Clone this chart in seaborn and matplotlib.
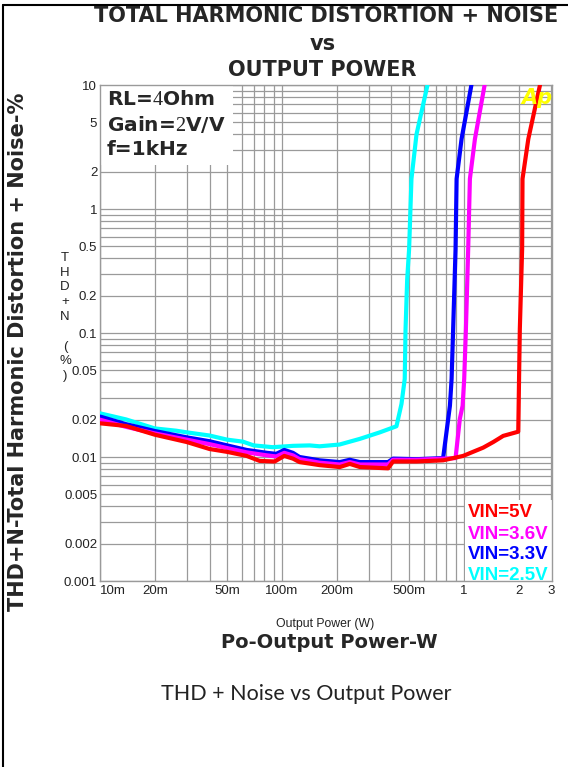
import numpy as np
import pandas as pd
import seaborn as sns
import matplotlib.pyplot as plt
from matplotlib.patches import Rectangle
from matplotlib.lines import Line2D
from matplotlib.ticker import FixedLocator, LogLocator, NullFormatter

# data (output power in W, THD+N in %)
vin_labels = ['VIN=2.5V', 'VIN=3.3V', 'VIN=3.6V', 'VIN=5V']
vin_colors = ['#00ffff', '#0000ff', '#ff00ff', '#ff0000']

p_25 = [0.010, 0.0139, 0.020, 0.0262, 0.030, 0.040, 0.050, 0.061, 0.070, 0.089, 0.115, 0.142,
        0.161, 0.207, 0.268, 0.345, 0.426, 0.454, 0.473, 0.478, 0.488, 0.500, 0.515, 0.549, 0.631]
thd_25 = [0.0225, 0.0201, 0.0170, 0.0163, 0.0158, 0.0149, 0.0138, 0.0133, 0.0124, 0.0120, 0.0123, 0.0124,
          0.0122, 0.0126, 0.0140, 0.0158, 0.0177, 0.0268, 0.0426, 0.108, 0.272, 0.476, 1.75, 4.0, 10.0]

p_33 = [0.010, 0.0139, 0.020, 0.030, 0.040, 0.050, 0.064, 0.083, 0.093, 0.103, 0.115, 0.125, 0.161, 0.208,
        0.236, 0.268, 0.383, 0.408, 0.549, 0.769, 0.820, 0.838, 0.856, 0.873, 0.900, 0.912, 0.971, 1.10]
thd_33 = [0.0212, 0.0184, 0.0162, 0.0144, 0.0134, 0.0124, 0.0114, 0.0108, 0.0106, 0.0114, 0.0108, 0.0100, 0.0094, 0.0091,
          0.0095, 0.0091, 0.0091, 0.0097, 0.0096, 0.0098, 0.0203, 0.0259, 0.0426, 0.108, 0.476, 1.75, 3.67, 10.0]

p_36 = [0.010, 0.0139, 0.020, 0.030, 0.040, 0.050, 0.064, 0.083, 0.093, 0.103, 0.115, 0.125, 0.161, 0.208, 0.236,
        0.268, 0.383, 0.408, 0.549, 0.769, 0.900, 0.950, 0.984, 1.004, 1.026, 1.056, 1.079, 1.15, 1.30]
thd_36 = [0.0200, 0.0175, 0.0155, 0.0138, 0.0127, 0.0118, 0.0109, 0.0103, 0.0101, 0.0108, 0.0103, 0.0096, 0.0090, 0.0087, 0.0091,
          0.0087, 0.0087, 0.0095, 0.0095, 0.0097, 0.0098, 0.0203, 0.0259, 0.0426, 0.108, 0.476, 1.75, 3.67, 10.0]

p_5 = [0.010, 0.0139, 0.0201, 0.030, 0.040, 0.050, 0.064, 0.0754, 0.0912, 0.103, 0.115, 0.125, 0.161, 0.208, 0.236, 0.268,
       0.383, 0.408, 0.549, 0.769, 0.99, 1.277, 1.45, 1.645, 1.99, 2.00, 2.01, 2.03, 2.09, 2.10, 2.26, 2.62]
thd_5 = [0.0187, 0.0178, 0.0151, 0.0132, 0.0116, 0.0110, 0.0102, 0.0093, 0.0092, 0.0102, 0.0097, 0.0091, 0.0086, 0.0083, 0.0088, 0.0083,
         0.0081, 0.0092, 0.0092, 0.0094, 0.0102, 0.0119, 0.0132, 0.0148, 0.0160, 0.0259, 0.0426, 0.108, 0.476, 1.75, 3.67, 10.0]

x_ticks = [0.01, 0.02, 0.05, 0.1, 0.2, 0.5, 1, 2, 3]
x_tick_labels = ['10m', '20m', '50m', '100m', '200m', '500m', '1', '2', '3']
y_ticks = [0.001, 0.002, 0.005, 0.01, 0.02, 0.05, 0.1, 0.2, 0.5, 1, 2, 5, 10]
y_tick_labels = ['0.001', '0.002', '0.005', '0.01', '0.02', '0.05', '0.1', '0.2', '0.5', '1', '2', '5', '10']

df = pd.concat([
    pd.DataFrame({'P': p, 'THD': t, 'VIN': lab})
    for p, t, lab in zip([p_25, p_33, p_36, p_5], [thd_25, thd_33, thd_36, thd_5], vin_labels)
])

sns.set_style('white')
plt.rcParams['mathtext.fontset'] = 'custom'
plt.rcParams['mathtext.rm'] = 'Liberation Serif'
narrow = 'Liberation Sans'

fig = plt.figure(figsize=(5.68, 7.67), dpi=100)
ax = fig.add_axes([100 / 568, 186 / 767, 452 / 568, 496 / 767])

sns.lineplot(data=df, x='P', y='THD', hue='VIN', hue_order=vin_labels, palette=vin_colors,
             estimator=None, sort=False, linewidth=3, legend=False, ax=ax, zorder=3)

ax.set_xscale('log')
ax.set_yscale('log')
ax.set_xlim(0.01, 3.05)
ax.set_ylim(0.001, 10)

ax.xaxis.set_major_locator(FixedLocator(x_ticks))
ax.set_xticklabels(x_tick_labels, family=narrow, fontsize=9.5, color='#222222')
ax.yaxis.set_major_locator(FixedLocator(y_ticks))
ax.set_yticklabels(y_tick_labels, family=narrow, fontsize=9.5, color='#222222')
ax.get_xticklabels()[0].set_ha('left')
for axis in (ax.xaxis, ax.yaxis):
    axis.set_minor_locator(LogLocator(base=10, subs=np.arange(1, 10)))
    axis.set_minor_formatter(NullFormatter())
ax.tick_params(which='both', length=0)
ax.tick_params(axis='x', pad=3)
ax.tick_params(axis='y', pad=2)
ax.grid(True, which='both', color='#9a9a9a', linewidth=0.9)
ax.set_axisbelow(True)
for s in ax.spines.values():
    s.set_color('#9a9a9a')
    s.set_linewidth(1)
ax.set_xlabel('')
ax.set_ylabel('')

# white panels behind the conditions text and the series labels
ax.add_patch(Rectangle((0, 0.839), 0.294, 0.161, transform=ax.transAxes,
                       facecolor='white', edgecolor='none', zorder=1))
ax.add_patch(Rectangle((0.8075, 0.0), 0.1925, 0.163, transform=ax.transAxes,
                       facecolor='white', edgecolor='none', zorder=1))

ax.text(0.015, 0.970, r'RL=$\mathrm{4}$Ohm', transform=ax.transAxes, fontsize=14.5,
        fontweight='bold', va='center', ha='left', zorder=4)
ax.text(0.015, 0.921, r'Gain=$\mathrm{2}$V/V', transform=ax.transAxes, fontsize=14.5,
        fontweight='bold', va='center', ha='left', zorder=4)
ax.text(0.015, 0.869, 'f=1kHz', transform=ax.transAxes, fontsize=14.5,
        fontweight='bold', va='center', ha='left', zorder=4)

ax.text(0.967, 0.974, 'Ap', transform=ax.transAxes, fontsize=15, fontweight='bold',
        style='italic', color='#ffff00', va='center', ha='center', zorder=5)

legend_y = [0.129, 0.085, 0.0444, 0.003]
for lab, col, yy in zip(vin_labels[::-1], vin_colors[::-1], legend_y):
    ax.text(0.813, yy, lab, transform=ax.transAxes, family='Liberation Sans', fontsize=13.5,
            fontweight='bold', color=col, va='baseline', ha='left', zorder=4)

# titles and axis labels
fig.text(326 / 568, 1 - 22 / 767, 'TOTAL HARMONIC DISTORTION + NOISE', fontsize=15,
         fontweight='bold', ha='center', va='baseline')
fig.text(323 / 568, 1 - 50 / 767, 'vs', fontsize=15, fontweight='bold', ha='center', va='baseline')
fig.text(322 / 568, 1 - 76 / 767, 'OUTPUT POWER', fontsize=15, fontweight='bold', ha='center', va='baseline')

fig.text(18 / 568, 1 - 351.5 / 767, 'THD+N-Total Harmonic Distortion + Noise-%', fontsize=15,
         fontweight='bold', rotation=90, ha='center', va='center')
for i, ch in enumerate(['T', 'H', 'D', '+', 'N', '', '(', '%', ')']):
    fig.text(65 / 568, 1 - (258 + i * 14.75) / 767, ch, family=narrow, fontsize=9.5,
             color='#222222', ha='center', va='center')

fig.text(325.5 / 568, 1 - 626.7 / 767, 'Output Power (W)', family=narrow, fontsize=8.8,
         color='#222222', ha='center', va='baseline')
fig.text(329 / 568, 1 - 648.3 / 767, 'Po-Output Power-W', fontsize=14, fontweight='bold',
         ha='center', va='baseline')
fig.text(306 / 568, 1 - 700 / 767, 'THD + Noise vs Output Power', family='Lato', fontsize=15.5,
         color='#222222', ha='center', va='baseline')

# page frame
fig.add_artist(Line2D([3 / 568, 1], [1 - 5 / 767, 1 - 5 / 767], color='black', linewidth=1.5))
fig.add_artist(Line2D([3 / 568, 3 / 568], [0, 1 - 5 / 767], color='black', linewidth=1.5))

fig.savefig('out.png', dpi=100)
